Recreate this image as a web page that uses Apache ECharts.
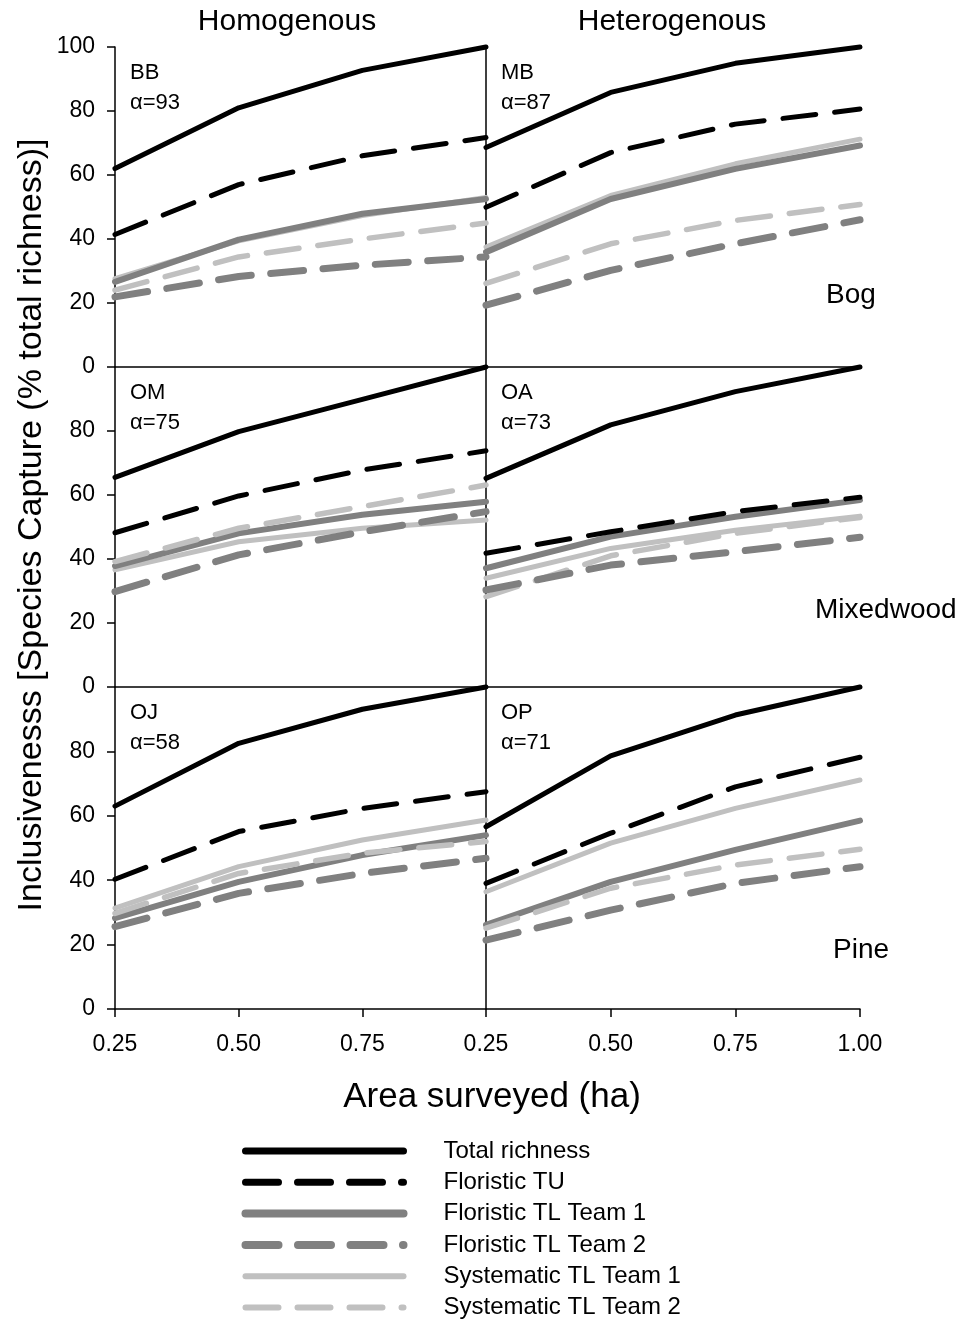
<!DOCTYPE html>
<html>
<head>
<meta charset="utf-8">
<title>Inclusiveness by area surveyed</title>
<script src="https://cdn.jsdelivr.net/npm/echarts@6/dist/echarts.min.js"></script>
<style>
  html, body { margin: 0; padding: 0; background: #fff; }
  #chart { width: 972px; height: 1322px; }
</style>
</head>
<body>
<div id="chart"></div>
<script>
// Area surveyed (ha) along each panel's x axis
const areaTicks = [0.25, 0.5, 0.75, 1.0];

const seriesNames = [
  'Total richness',
  'Floristic TU',
  'Floristic TL Team 1',
  'Floristic TL Team 2',
  'Systematic TL Team 1',
  'Systematic TL Team 2'
];

const columnTitles = ['Homogenous', 'Heterogenous'];
const forestTypes = ['Bog', 'Mixedwood', 'Pine'];
const panelCodes = ['BB', 'MB', 'OM', 'OA', 'OJ', 'OP'];
const panelAlphas = [93, 87, 75, 73, 58, 71];

// Species capture (% total richness), one row per method in seriesNames order
const panelBB = [
  [62, 81, 92.7, 100],
  [41.4, 57, 66, 71.7],
  [26.6, 39.8, 47.9, 52.5],
  [21.9, 28.3, 31.8, 34.4],
  [27.6, 39.4, 47.3, 53],
  [24, 34.4, 40, 45]
];
const panelMB = [
  [68.6, 85.8, 94.9, 100],
  [49.9, 67, 75.9, 80.6],
  [35.9, 52.5, 61.9, 69.2],
  [19.3, 30.2, 38.5, 46],
  [37.5, 53.6, 63.5, 71.2],
  [26.1, 38.5, 45.8, 50.8]
];
const panelOM = [
  [65.5, 79.8, 89.9, 100],
  [48.2, 59.7, 67.8, 73.8],
  [37.8, 48, 53.8, 57.9],
  [29.8, 41.3, 48.5, 54.8],
  [36.6, 45.4, 49.6, 52.2],
  [39.2, 49.6, 56.4, 63.1]
];
const panelOA = [
  [65.2, 81.9, 92.3, 100],
  [41.8, 48.5, 54.8, 59.3],
  [37.1, 47, 53.2, 58.4],
  [30.3, 38.1, 42.3, 46.8],
  [34, 43.3, 49, 53.4],
  [28.2, 41, 48, 53]
];
const panelOJ = [
  [63, 82.5, 93.1, 100],
  [40.3, 55.1, 62.3, 67.5],
  [28.2, 39.5, 47.8, 54],
  [25.6, 35.9, 42.1, 46.8],
  [31.3, 44.2, 52.5, 58.7],
  [29.7, 42.1, 48.4, 52]
];
const panelOP = [
  [56.6, 78.6, 91.3, 100],
  [39, 54.6, 69, 78.2],
  [26.1, 39.5, 49.4, 58.5],
  [21.4, 30.7, 39, 44.2],
  [36.4, 51.5, 62.3, 71.1],
  [25.1, 37.5, 44.7, 49.6]
];
const panels = [panelBB, panelMB, panelOM, panelOA, panelOJ, panelOP];

const FONT = '"Liberation Sans", Arial, Helvetica, sans-serif';
const BLACK = '#000000';
const DARK = '#808080';
const LIGHT = '#c0c0c0';

// line look per method
const lineStyles = [
  { color: BLACK, width: 5, type: 'solid', cap: 'round', join: 'round' },
  { color: BLACK, width: 5, type: [33, 19], cap: 'round', join: 'round' },
  { color: DARK, width: 6, type: 'solid', cap: 'round', join: 'round' },
  { color: DARK, width: 7, type: [33, 19.5], cap: 'round', join: 'round' },
  { color: LIGHT, width: 5, type: 'solid', cap: 'round', join: 'round' },
  { color: LIGHT, width: 5.5, type: [33, 19], cap: 'round', join: 'round' }
];
const seriesZ = [10, 9, 6, 8, 5, 7];
const legendWidths = [7, 7, 8, 8, 6, 6];

// panel layout: 2 columns x 3 rows sharing borders
const colLeft = [115, 486];
const colWidth = [371, 374];
const rowTop = [47, 367, 687];
const rowHeight = [320, 320, 322];

const grids = [], xAxes = [], yAxes = [], series = [], graphics = [];

for (let p = 0; p < 6; p++) {
  const row = Math.floor(p / 2), col = p % 2;
  const isBottom = row === 2;
  grids.push({ left: colLeft[col], top: rowTop[row], width: colWidth[col], height: rowHeight[row], containLabel: false });

  xAxes.push({
    type: 'value', gridIndex: p, min: 0.25, max: 1.0, interval: 0.25,
    axisLine: { show: true, lineStyle: { color: BLACK, width: 1.5 } },
    axisTick: { show: isBottom, inside: false, length: 8, lineStyle: { color: BLACK, width: 1.5 } },
    axisLabel: {
      show: isBottom, margin: 24, color: BLACK, fontFamily: FONT, fontSize: 23,
      formatter: v => (col === 0 && v === 1) ? '' : v.toFixed(2)
    },
    splitLine: { show: false }
  });

  yAxes.push({
    type: 'value', gridIndex: p, min: 0, max: 100, interval: 20,
    axisLine: { show: true, lineStyle: { color: BLACK, width: 1.5 } },
    axisTick: { show: col === 0, inside: false, length: 8, lineStyle: { color: BLACK, width: 1.5 } },
    axisLabel: {
      show: col === 0, margin: 20, color: BLACK, fontFamily: FONT, fontSize: 23,
      formatter: v => (row > 0 && v === 100) ? '' : String(v)
    },
    splitLine: { show: false }
  });

  panels[p].forEach((vals, s) => {
    series.push({
      type: 'line', name: seriesNames[s], xAxisIndex: p, yAxisIndex: p,
      data: areaTicks.map((x, i) => [x, vals[i]]),
      symbol: 'none', showSymbol: false, clip: false, silent: true,
      lineStyle: lineStyles[s], itemStyle: { color: lineStyles[s].color },
      z: seriesZ[s], animation: false
    });
  });

  // panel code and alpha
  const gx = colLeft[col] + 15;
  graphics.push({
    type: 'text', x: gx, y: rowTop[row] + 26,
    style: { text: panelCodes[p], fontFamily: FONT, fontSize: 22, fill: BLACK, align: 'left', verticalAlign: 'middle' }
  });
  graphics.push({
    type: 'text', x: gx, y: rowTop[row] + 56,
    style: { text: '\u03b1=' + panelAlphas[p], fontFamily: FONT, fontSize: 22, fill: BLACK, align: 'left', verticalAlign: 'middle' }
  });
}

// column headings
graphics.push({ type: 'text', x: 287, y: 22, style: { text: columnTitles[0], fontFamily: FONT, fontSize: 30, fill: BLACK, align: 'center', verticalAlign: 'middle' } });
graphics.push({ type: 'text', x: 672, y: 22, style: { text: columnTitles[1], fontFamily: FONT, fontSize: 30, fill: BLACK, align: 'center', verticalAlign: 'middle' } });

// forest type labels on the right
const forestLabelPos = [[826, 295], [815, 610], [833, 950]];
forestTypes.forEach((t, i) => {
  graphics.push({ type: 'text', x: forestLabelPos[i][0], y: forestLabelPos[i][1], style: { text: t, fontFamily: FONT, fontSize: 28, fill: BLACK, align: 'left', verticalAlign: 'middle' } });
});

// shared axis titles
graphics.push({ type: 'text', x: 492, y: 1097, style: { text: 'Area surveyed (ha)', fontFamily: FONT, fontSize: 35, fill: BLACK, align: 'center', verticalAlign: 'middle' } });
graphics.push({ type: 'text', x: 32, y: 525, rotation: Math.PI / 2, style: { text: 'Inclusivenesss [Species Capture (% total richness)]', fontFamily: FONT, fontSize: 34, fill: BLACK, align: 'center', verticalAlign: 'middle' } });

const option = {
  backgroundColor: '#ffffff',
  animation: false,
  grid: grids,
  xAxis: xAxes,
  yAxis: yAxes,
  series: series,
  legend: {
    orient: 'vertical', left: 241.5, top: 1139, height: 200, padding: 0,
    itemWidth: 158, itemHeight: 22, itemGap: 7.3,
    selectedMode: false,
    itemStyle: { opacity: 0 },
    textStyle: { fontFamily: FONT, fontSize: 24, color: BLACK, padding: [0, 0, 0, 35] },
    data: seriesNames.map((n, i) => ({ name: n, lineStyle: { width: legendWidths[i] } }))
  },
  graphic: graphics
};

const chart = echarts.init(document.getElementById('chart'), null, { renderer: 'canvas' });
chart.setOption(option);
</script>
</body>
</html>
